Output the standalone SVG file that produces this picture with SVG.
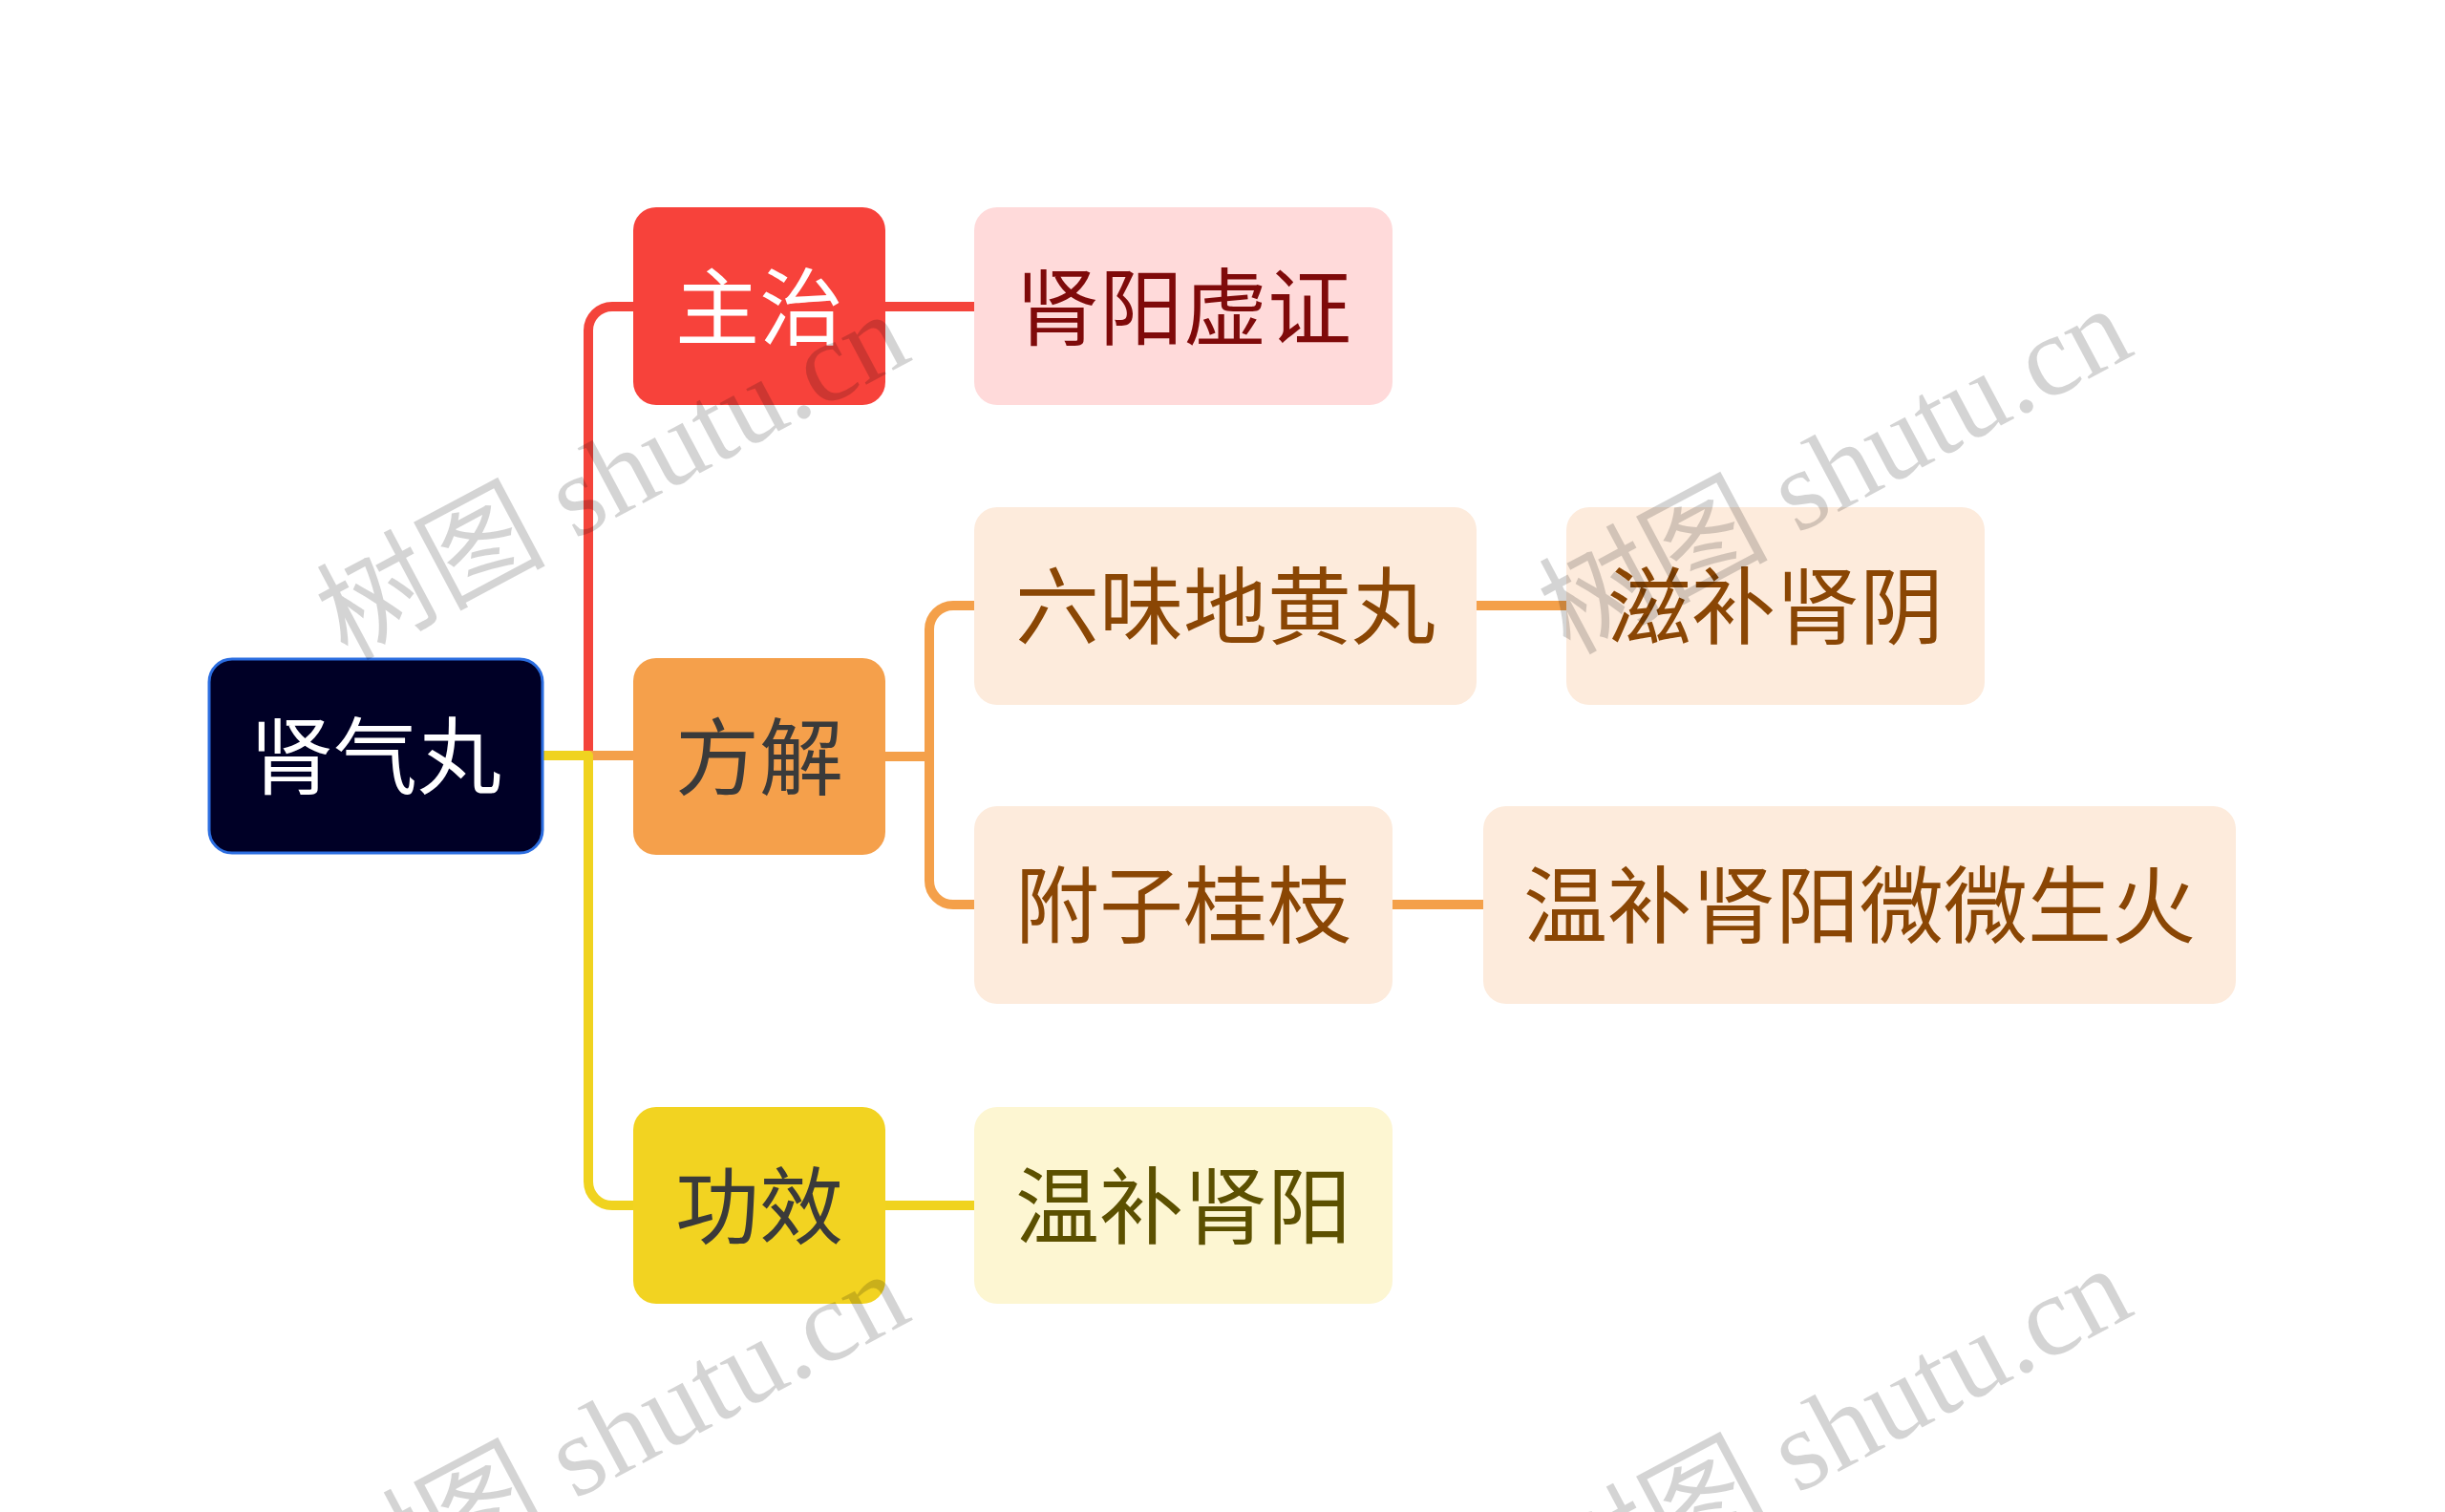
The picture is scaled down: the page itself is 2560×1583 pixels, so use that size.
<svg xmlns="http://www.w3.org/2000/svg" width="2560" height="1583" viewBox="0 0 2560 1583">
<style>
.t{font-family:"Noto Sans CJK SC","Noto Sans",sans-serif;font-size:88px;text-anchor:middle}
.c{fill:none;stroke-width:10;stroke-linejoin:round}
.wm{font-family:"Liberation Serif","Noto Sans CJK SC",serif;font-size:120px;fill:#000;fill-opacity:0.17}
</style>
<rect width="2560" height="1583" fill="#ffffff"/>
<g id="connectors">
<path class="c" stroke="#F4443B" d="M568,791 H616 V346 A25,25 0 0 1 641,321 H663"/>
<path class="c" stroke="#F4443B" d="M927,321 H1020"/>
<path class="c" stroke="#F4A04A" d="M568,791 H663"/>
<path class="c" stroke="#F4A04A" d="M927,792 H973 V659 A25,25 0 0 1 998,634 H1020"/>
<path class="c" stroke="#F4A04A" d="M973,792 V922 A25,25 0 0 0 998,947 H1020"/>
<path class="c" stroke="#F4A04A" d="M1546,634 H1640"/>
<path class="c" stroke="#F4A04A" d="M1458,947 H1553"/>
<path class="c" stroke="#F0D31F" d="M568,791 H616 V1237 A25,25 0 0 0 641,1262 H663"/>
<path class="c" stroke="#F0D31F" d="M927,1262 H1020"/>
</g>
<g id="root">
<rect x="219" y="690" width="349" height="203" rx="24" fill="#000026" stroke="#2B6DE0" stroke-width="3"/>
<text class="t" x="393" y="824" fill="#ffffff">肾气丸</text>
</g>
<g id="zhuzhi">
<rect x="663" y="217" width="264" height="207" rx="24" fill="#F7423B"/>
<text class="t" x="795" y="354" fill="#ffffff">主治</text>
</g>
<g id="shenyangxuzheng">
<rect x="1020" y="217" width="438" height="207" rx="24" fill="#FFDADA"/>
<text class="t" x="1239" y="354" fill="#7F0A0A">肾阳虚证</text>
</g>
<g id="fangjie">
<rect x="663" y="689" width="264" height="206" rx="24" fill="#F5A04B"/>
<text class="t" x="795" y="825" fill="#3A3A3A">方解</text>
</g>
<g id="liuwei">
<rect x="1020" y="531" width="526" height="207" rx="24" fill="#FDEBDC"/>
<text class="t" x="1283" y="667" fill="#8A4604">六味地黄丸</text>
</g>
<g id="zibushenyin">
<rect x="1640" y="531" width="438" height="207" rx="24" fill="#FDEBDC"/>
<text class="t" x="1859" y="667" fill="#8A4604">滋补肾阴</text>
</g>
<g id="fuziguizhi">
<rect x="1020" y="844" width="438" height="207" rx="24" fill="#FDEBDC"/>
<text class="t" x="1239" y="980" fill="#8A4604">附子桂枝</text>
</g>
<g id="wenbushenyangweiwei">
<rect x="1553" y="844" width="788" height="207" rx="24" fill="#FDEBDC"/>
<text class="t" x="1947" y="980" fill="#8A4604">温补肾阳微微生火</text>
</g>
<g id="gongxiao">
<rect x="663" y="1159" width="264" height="206" rx="24" fill="#F2D321"/>
<text class="t" x="795" y="1295" fill="#3A3A3A">功效</text>
</g>
<g id="wenbushenyang">
<rect x="1020" y="1159" width="438" height="206" rx="24" fill="#FDF6D2"/>
<text class="t" x="1239" y="1295" fill="#5C5000">温补肾阳</text>
</g>
<g id="watermarks">
<text class="wm" transform="translate(363,692) rotate(-28)">树图 shutu.cn</text>
<text class="wm" transform="translate(1643,686) rotate(-28)">树图 shutu.cn</text>
<text class="wm" transform="translate(363,1697) rotate(-28)">树图 shutu.cn</text>
<text class="wm" transform="translate(1643,1691) rotate(-28)">树图 shutu.cn</text>
</g>
</svg>
